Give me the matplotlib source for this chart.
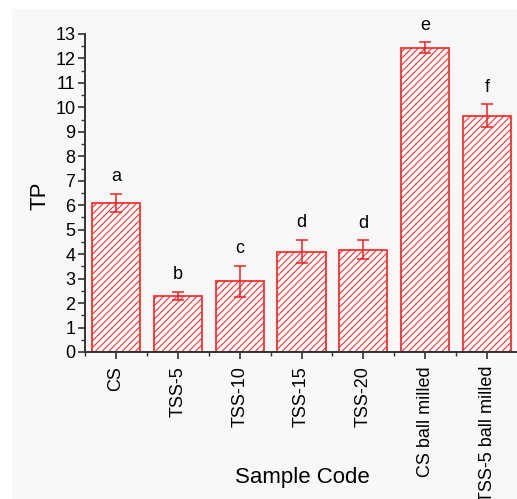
import matplotlib
matplotlib.use("Agg")
import matplotlib.pyplot as plt
from matplotlib.patches import Rectangle
from matplotlib.ticker import MultipleLocator, FixedLocator

plt.rcParams['font.family'] = ['Liberation Sans', 'DejaVu Sans']
plt.rcParams['hatch.linewidth'] = 0.8

categories = ["CS", "TSS-5", "TSS-10", "TSS-15", "TSS-20", "CS ball milled", "TSS-5 ball milled"]
tp_values = [6.09, 2.28, 2.89, 4.10, 4.18, 12.44, 9.66]
tp_errors = [0.38, 0.17, 0.63, 0.48, 0.38, 0.22, 0.46]
group_letters = ["a", "b", "c", "d", "d", "e", "f"]
letter_offset = 0.7

fig = plt.figure(figsize=(5.17, 4.99), dpi=100)
fig.patch.set_facecolor("white")
# faint grey plotting backdrop
fig.patches.append(Rectangle((12 / 517, 0), 1, 1 - 9 / 499, transform=fig.transFigure,
                             facecolor="#f8f8f8", edgecolor="none", zorder=-10))

ax = fig.add_axes([85 / 517, 1 - 352 / 499, 433 / 517, 318 / 499])
ax.patch.set_alpha(0)

x = list(range(len(categories)))
ax.bar(x, tp_values, width=0.78, facecolor="white", edgecolor="#ff3030",
       hatch="/////", linewidth=1.3, zorder=2)
ax.errorbar(x, tp_values, yerr=tp_errors, fmt="none", ecolor="#ee2222",
            elinewidth=1.1, capsize=4, capthick=1.1, zorder=3)

for xi, v, e, lab in zip(x, tp_values, tp_errors, group_letters):
    ax.text(xi, v + e + letter_offset, lab, ha="center", va="center",
            fontsize=13, color="black", clip_on=False)

ax.set_xlim(-0.5, 6.5)
ax.set_ylim(0, 13)
ax.yaxis.set_major_locator(MultipleLocator(1))
ax.yaxis.set_minor_locator(MultipleLocator(0.5))
ax.set_xticks(x)
ax.set_xticklabels(categories, rotation=90, fontsize=13)
ax.xaxis.set_minor_locator(FixedLocator([i + 0.5 for i in range(-1, 7)]))
ax.tick_params(axis="y", which="major", direction="out", length=5, width=1.2,
               labelsize=13, pad=2, color="#333333")
ax.tick_params(axis="y", which="minor", direction="out", length=3, width=1.0, color="#333333")
ax.tick_params(axis="x", which="major", direction="out", length=5, width=1.2,
               pad=5, color="#333333")
ax.tick_params(axis="x", which="minor", direction="out", length=3, width=1.0, color="#333333")

for side in ("top", "right"):
    ax.spines[side].set_visible(False)
for side in ("left", "bottom"):
    ax.spines[side].set_color("#333333")
    ax.spines[side].set_linewidth(1.4)

fig.text(40 / 517, 1 - 196 / 499, "TP", rotation=90, ha="center", va="center", fontsize=16)
fig.text(302 / 517, 1 - 478 / 499, "Sample Code", ha="center", va="center", fontsize=16)

fig.savefig("out.png", dpi=100)
